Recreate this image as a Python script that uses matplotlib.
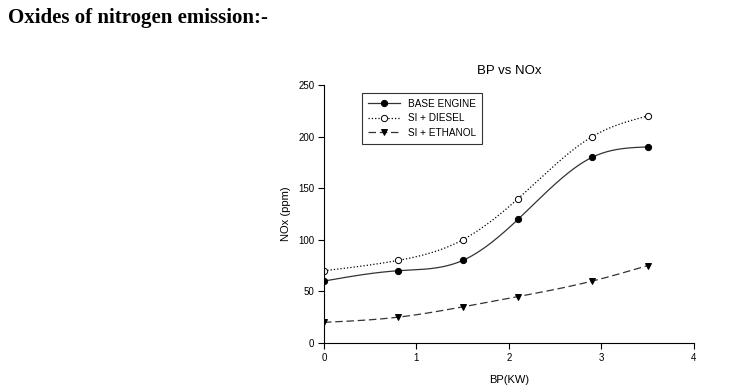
import numpy as np
import matplotlib
matplotlib.use("Agg")
import matplotlib.pyplot as plt

bp = [0, 0.8, 1.5, 2.1, 2.9, 3.5]
base_engine = [60, 70, 80, 120, 180, 190]
si_diesel = [70, 80, 100, 140, 200, 220]
si_ethanol = [20, 25, 35, 45, 60, 75]
x_ticks = [0, 1, 2, 3, 4]
y_ticks = [0, 50, 100, 150, 200, 250]


def natural_spline(x, y, n=200):
    x = np.asarray(x, float)
    y = np.asarray(y, float)
    k = len(x)
    h = np.diff(x)
    A = np.zeros((k, k))
    b = np.zeros(k)
    A[0, 0] = 1
    A[-1, -1] = 1
    for i in range(1, k - 1):
        A[i, i - 1] = h[i - 1]
        A[i, i] = 2 * (h[i - 1] + h[i])
        A[i, i + 1] = h[i]
        b[i] = 6 * ((y[i + 1] - y[i]) / h[i] - (y[i] - y[i - 1]) / h[i - 1])
    M = np.linalg.solve(A, b)
    xs = np.linspace(x[0], x[-1], n)
    ys = np.empty_like(xs)
    for j, xv in enumerate(xs):
        i = min(np.searchsorted(x, xv, side="right") - 1, k - 2)
        t1 = x[i + 1] - xv
        t0 = xv - x[i]
        ys[j] = (M[i] * t1 ** 3 + M[i + 1] * t0 ** 3) / (6 * h[i]) \
            + (y[i] / h[i] - M[i] * h[i] / 6) * t1 \
            + (y[i + 1] / h[i] - M[i + 1] * h[i] / 6) * t0
    return xs, ys


plt.rcParams["font.family"] = ["Liberation Sans", "DejaVu Sans"]
fig = plt.figure(figsize=(7.51, 3.91), dpi=100)
fig.text(0.011, 0.953, "Oxides of nitrogen emission:-", family="Liberation Serif",
         fontweight="bold", fontsize=15, va="center", ha="left")

ax = fig.add_axes([0.4314, 0.1228, 0.4927, 0.6598])

series = [
    ("BASE ENGINE", base_engine, "-", "o", "black", "#333333"),
    ("SI + DIESEL", si_diesel, ":", "o", "white", "black"),
    ("SI + ETHANOL", si_ethanol, (0, (6, 3)), "v", "black", "#333333"),
]
handles = []
for label, vals, ls, mk, mfc, lc in series:
    xs, ys = natural_spline(bp, vals)
    ax.plot(xs, ys, linestyle=ls, color=lc, lw=0.9)
    ax.plot(bp, vals, linestyle="none", marker=mk, ms=4.5, mfc=mfc, mec="black", mew=0.7)
    h, = ax.plot([], [], linestyle=ls, color=lc, lw=0.9, marker=mk, ms=4.5,
                 mfc=mfc, mec="black", mew=0.7, label=label)
    handles.append(h)

ax.set_xlim(0, 4)
ax.set_ylim(0, 250)
ax.set_xticks(x_ticks)
ax.set_yticks(y_ticks)
ax.spines["top"].set_visible(False)
ax.spines["right"].set_visible(False)
ax.tick_params(direction="out", length=4, width=0.8, labelsize=7, pad=3)
ax.set_xlabel("BP(KW)", fontsize=8, labelpad=9)
ax.set_ylabel("NOx (ppm)", fontsize=8, labelpad=5)
ax.set_title("BP vs NOx", fontsize=9.5, pad=8)

leg = ax.legend(handles=handles, loc="upper left", bbox_to_anchor=(0.088, 0.99),
                fontsize=7.2, frameon=True, fancybox=False, edgecolor="black",
                borderpad=0.6, handlelength=3.2, labelspacing=0.45)
leg.get_frame().set_linewidth(0.8)

fig.savefig("out.png", dpi=100)
